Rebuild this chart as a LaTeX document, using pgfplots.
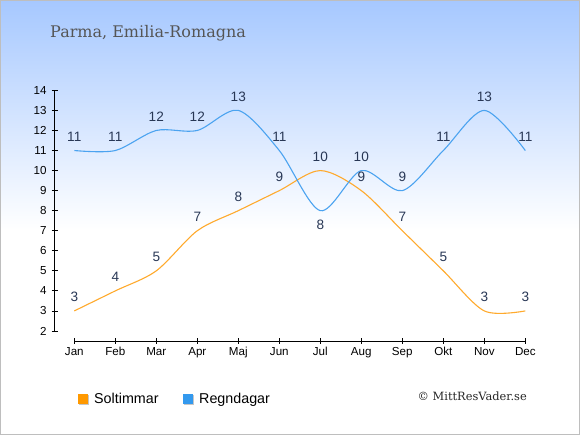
\documentclass[border=0pt]{standalone}
\usepackage{pgfplots}
\pgfplotsset{compat=1.18}
\usepackage{fontspec}
\setmainfont{Liberation Sans}
\newfontfamily\seriffont{DejaVu Serif}
\definecolor{bgtop}{RGB}{166,200,255}
\definecolor{bordercol}{RGB}{190,190,190}
\definecolor{titlecol}{RGB}{85,85,85}
\definecolor{labelcol}{RGB}{40,55,85}
\definecolor{sunline}{RGB}{255,170,45}
\definecolor{sunbox}{RGB}{255,153,0}
\definecolor{rainline}{RGB}{75,163,240}
\definecolor{rainbox}{RGB}{51,153,238}
\begin{document}
\begin{tikzpicture}[x=1bp,y=1bp]
\path[use as bounding box] (0,0) rectangle (580,435);
\fill[white] (0,0) rectangle (580,435);
\shade[top color=bgtop, bottom color=white] (0,205) rectangle (580,435);
\draw[bordercol, line width=1bp] (0.5,0.5) rectangle (579.5,434.5);
\node[anchor=base west, inner sep=0, text=titlecol, font=\seriffont\fontsize{16bp}{19bp}\selectfont] at (50,397) {Parma, Emilia-Romagna};
\begin{axis}[
  at={(54.5bp,94bp)}, anchor=south west,
  x=41bp, y=20.05bp,
  xmin=-0.483, xmax=11, ymin=1.5, ymax=14,
  enlargelimits=false,
  axis lines=left,
  axis line style={draw=none,-},
  clip=false,
  xtick={0,...,11},
  xticklabels={Jan,Feb,Mar,Apr,Maj,Jun,Jul,Aug,Sep,Okt,Nov,Dec},
  ytick={2,...,14},
  tick align=center,
  major tick length=6bp,
  tick style={black, line width=0.8bp},
  ticklabel style={font=\fontsize{11.6bp}{13bp}\selectfont},
  yticklabel style={xshift=-1.5bp},
  /pgf/number format/assume math mode=true,
]
\draw[black, line width=0.8bp] (axis cs:-0.483,2) -- (axis cs:-0.483,14);
\draw[black, line width=0.8bp] (axis cs:0,1.5) -- (axis cs:11,1.5);
\addplot[sunline, line width=1.1bp, smooth, mark=none] coordinates {(0,3)(1,4)(2,5)(3,7)(4,8)(5,9)(6,10)(7,9)(8,7)(9,5)(10,3)(11,3)};
\addplot[rainline, line width=1.1bp, smooth, mark=none] coordinates {(0,11)(1,11)(2,12)(3,12)(4,13)(5,11)(6,8)(7,10)(8,9)(9,11)(10,13)(11,11)};
\addplot[draw=none, mark=none, nodes near coords, point meta=y,
  every node near coord/.style={anchor=center, yshift=14bp, text=labelcol, font=\fontsize{13.6bp}{15bp}\selectfont}]
  coordinates {(0,3)(1,4)(2,5)(3,7)(4,8)(5,9)(6,10)(7,9)(8,7)(9,5)(10,3)(11,3)};
\addplot[draw=none, mark=none, nodes near coords, point meta=y,
  every node near coord/.style={anchor=center, yshift=14bp, text=labelcol, font=\fontsize{13.6bp}{15bp}\selectfont}]
  coordinates {(0,11)(1,11)(2,12)(3,12)(4,13)(5,11)(7,10)(8,9)(9,11)(10,13)(11,11)};
\addplot[draw=none, mark=none, nodes near coords, point meta=y,
  every node near coord/.style={anchor=center, yshift=-14bp, text=labelcol, font=\fontsize{13.6bp}{15bp}\selectfont}]
  coordinates {(6,8)};
\end{axis}
\fill[gray!45] (78.7,30) rectangle (88.7,40);
\fill[sunbox] (77.7,31) rectangle (87.7,41);
\node[anchor=base west, inner sep=0, font=\fontsize{14.3bp}{16bp}\selectfont] at (94,31.5) {Soltimmar};
\fill[gray!45] (183.7,30) rectangle (193.7,40);
\fill[rainbox] (182.7,31) rectangle (192.7,41);
\node[anchor=base west, inner sep=0, font=\fontsize{14.3bp}{16bp}\selectfont] at (199,31.5) {Regndagar};
\node[anchor=base east, inner sep=0, text=black!85, font=\seriffont\fontsize{11.4bp}{13bp}\selectfont] at (527,34) {© MittResVader.se};
\end{tikzpicture}
\end{document}
